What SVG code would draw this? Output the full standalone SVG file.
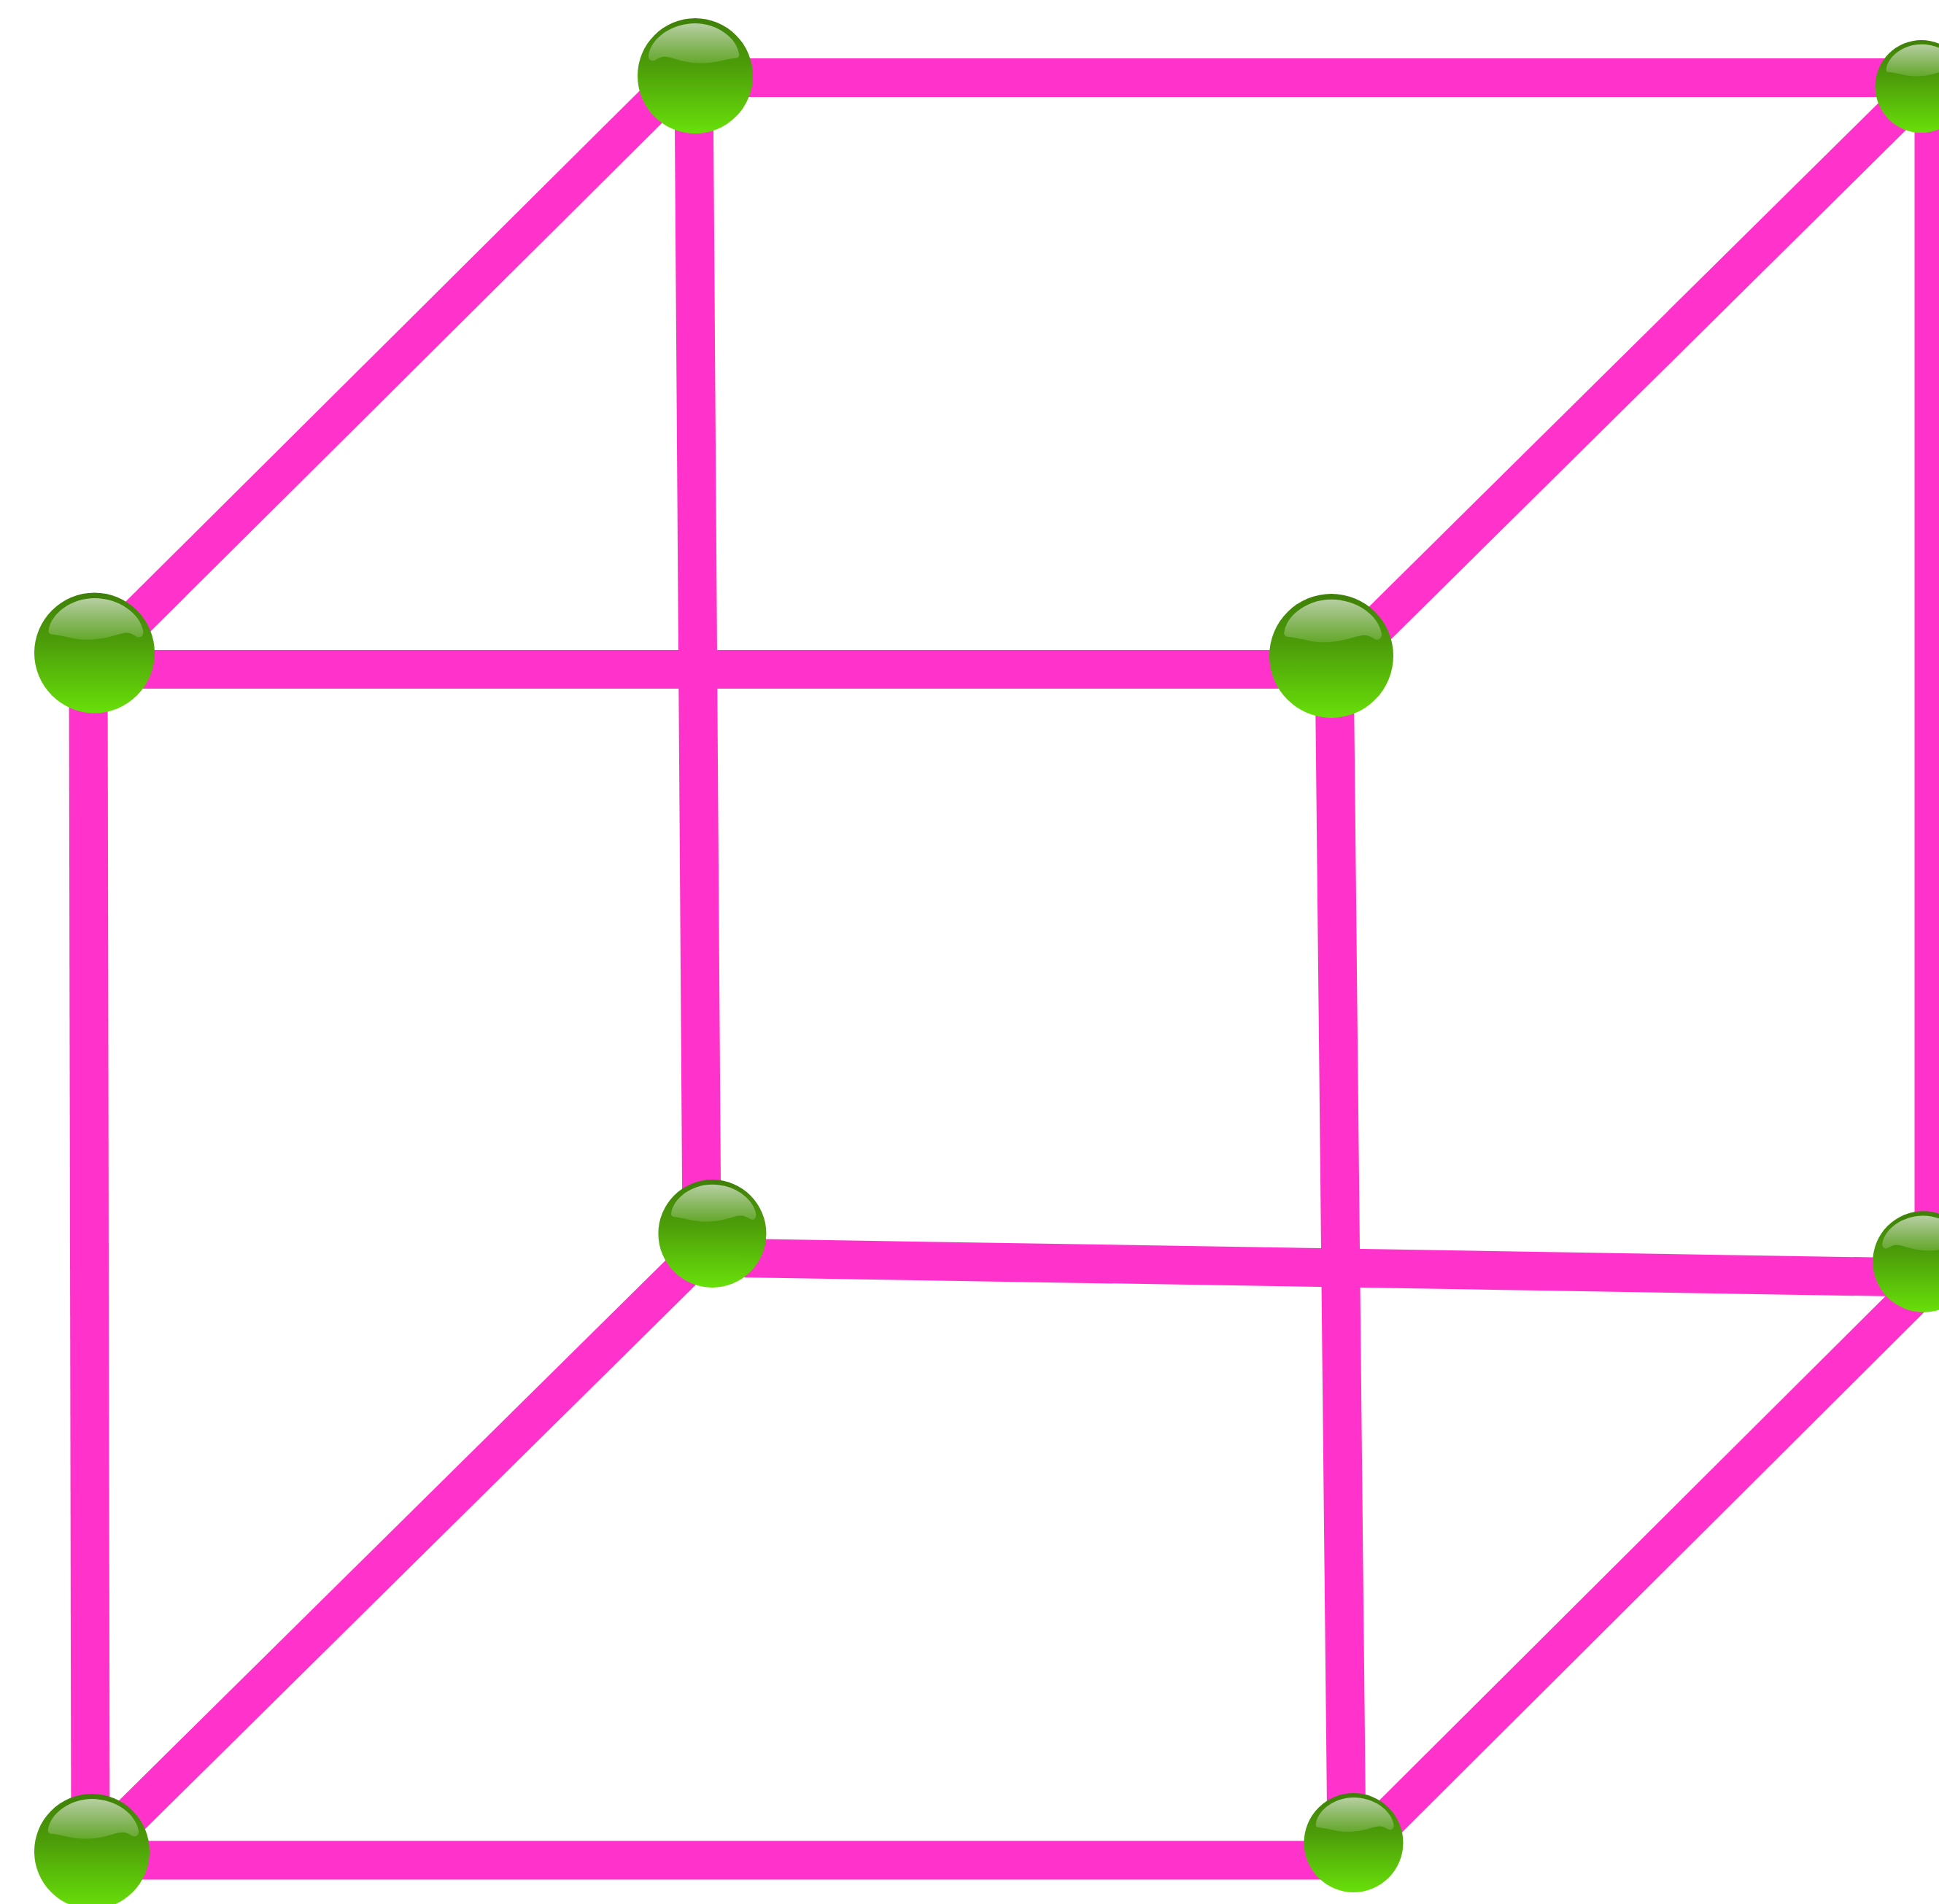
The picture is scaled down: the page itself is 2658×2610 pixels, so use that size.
<svg xmlns="http://www.w3.org/2000/svg" width="2658" height="2610" viewBox="0 0 2658 2610">
<style>
.edge{stroke:#ff33cc;stroke-width:53;fill:none}
.ball{fill:url(#body)}
.gloss{fill:url(#shine)}
</style>
<defs>
<linearGradient id="body" x1="0" y1="0" x2="0" y2="1">
<stop offset="0" stop-color="#3f7f08"/>
<stop offset="0.4" stop-color="#4c9c09"/>
<stop offset="1" stop-color="#68e00a"/>
</linearGradient>
<linearGradient id="shine" x1="0" y1="0" x2="0" y2="1">
<stop offset="0" stop-color="#fff" stop-opacity="0.62"/>
<stop offset="1" stop-color="#fff" stop-opacity="0.14"/>
</linearGradient>
<g id="sphere">
<circle class="ball" r="100"/>
<path class="gloss" d="M-76,-38C-72,-66 -38,-91 0,-91C40,-91 76,-66 81,-36C82,-28 76,-24 70,-27C62,-32 57,-34 50,-33C38,-32 20,-22 -13,-22C-35,-22 -50,-29 -72,-31C-75,-32 -77,-35 -76,-38Z"/>
</g>
</defs>
<rect width="2658" height="2610" fill="#fff"/>
<g id="connectors">
<line class="edge" x1="953" y1="106.500" x2="2634" y2="106.500"/>
<line class="edge" x1="129" y1="917.500" x2="1824" y2="917.500"/>
<line class="edge" x1="126" y1="2550" x2="1856" y2="2550"/>
<line class="edge" x1="976" y1="1723.800" x2="2636" y2="1751.200"/>
<line class="edge" x1="121" y1="895" x2="124" y2="2538"/>
<line class="edge" x1="951" y1="104" x2="962" y2="1692"/>
<line class="edge" x1="1829" y1="898" x2="1846" y2="2526"/>
<line class="edge" x1="2651" y1="118" x2="2651" y2="1730"/>
<line class="edge" x1="953" y1="86" x2="130" y2="904"/>
<line class="edge" x1="2634" y1="120" x2="1824" y2="921"/>
<line class="edge" x1="976" y1="1702" x2="126" y2="2542"/>
<line class="edge" x1="2636" y1="1763" x2="1856" y2="2540"/>
</g>
<g id="node-back-top-left"><use href="#sphere" transform="translate(953 104) scale(-.79 .79)"/></g>
<g id="node-back-top-right"><use href="#sphere" transform="translate(2634 118.500) scale(.635)"/></g>
<g id="node-front-top-left"><use href="#sphere" transform="translate(129.500 895) scale(.825)"/></g>
<g id="node-front-top-right"><use href="#sphere" transform="translate(1825 899) scale(.85)"/></g>
<g id="node-back-bottom-left"><use href="#sphere" transform="translate(976.400 1691) scale(.74)"/></g>
<g id="node-back-bottom-right"><use href="#sphere" transform="translate(2636.500 1729.500) scale(-.693 .693)"/></g>
<g id="node-front-bottom-left"><use href="#sphere" transform="translate(126 2538) scale(.79)"/></g>
<g id="node-front-bottom-right"><use href="#sphere" transform="translate(1855.500 2526) scale(.68)"/></g>
</svg>
